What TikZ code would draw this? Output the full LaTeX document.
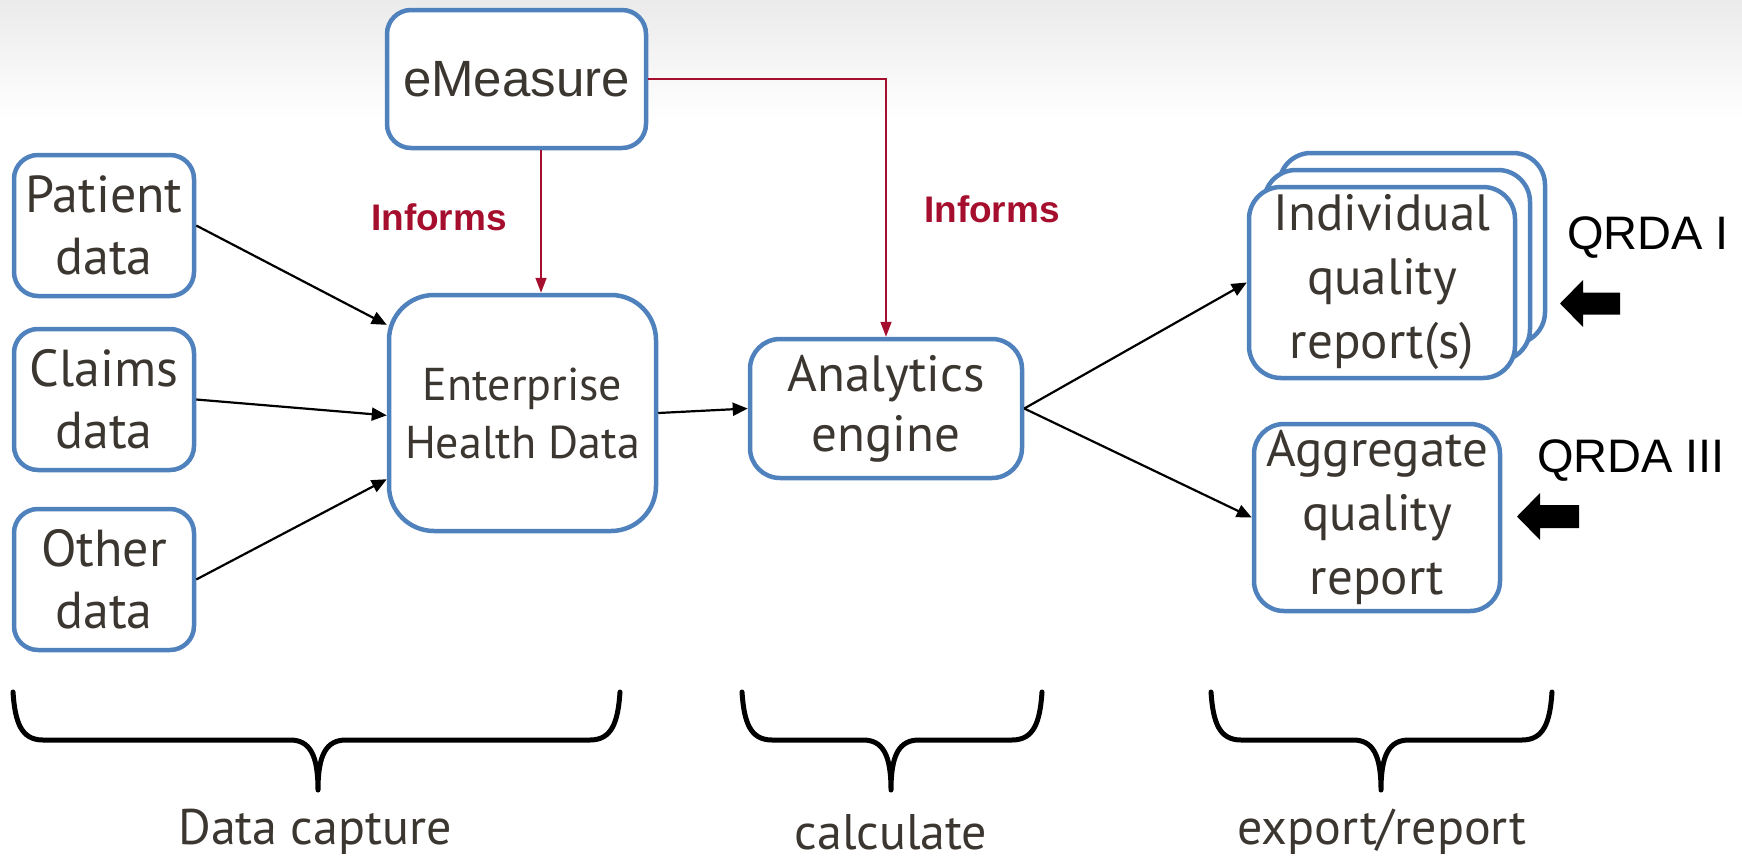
\documentclass[tikz,border=0pt]{standalone}
\usepackage{fontspec}
\setmainfont{PT Sans}
\newfontfamily\arialf{Liberation Sans}
\usetikzlibrary{arrows.meta,calc}
\definecolor{boxblue}{HTML}{4F81BD}
\definecolor{inkgray}{HTML}{3B3630}
\definecolor{informred}{HTML}{A50E2D}
\newcommand\fs[2]{\fontsize{#1}{#2}\selectfont}
\tikzset{
  box/.style={draw=boxblue, line width=4.5pt, fill=white, rounded corners=#1,
    inner sep=0pt, align=center, text=inkgray},
  box/.default=24pt,
  flow/.style={line width=2.2pt, -{Triangle[length=15pt,width=13pt]}},
  inform/.style={draw=informred, line width=1.7pt,
    -{Triangle[length=15pt,width=11pt,fill=informred]}},
  brace/.style={line width=5pt, line cap=round, line join=round},
  phase/.style={text=inkgray, font=\fs{50}{58}},
  informlabel/.style={text=informred, font=\arialf\bfseries\fs{37}{44}},
  qrda/.style={text=black, font=\arialf\fs{47}{55}},
}
\begin{document}
\begin{tikzpicture}[x=1pt,y=-1pt]
\useasboundingbox (0,0) rectangle (1742,862);
% soft grey band along the top edge
\shade[top color=black!8, bottom color=white] (0,0) rectangle (1742,120);

% measure definition
\node[box, minimum width=259pt, minimum height=138pt, font=\arialf\fs{51}{60}]
  (em) at (516.5,79) {eMeasure};

% data sources
\node[box, minimum width=180pt, minimum height=141pt, font=\fs{52}{62}]
  (pat) at (104,225.5) {Patient\\data};
\node[box, minimum width=180pt, minimum height=141pt, font=\fs{52}{62}]
  (cla) at (104,399.5) {Claims\\data};
\node[box, minimum width=180pt, minimum height=141pt, font=\fs{52}{62}]
  (oth) at (104,579.5) {Other\\data};

% central store and engine
\node[box=45pt, minimum width=267pt, minimum height=236pt, font=\fs{46}{58}]
  (ehd) at (522.5,413) {Enterprise\\Health Data};
\node[box=30pt, minimum width=272pt, minimum height=139pt, font=\fs{51}{60}]
  (an) at (886,408.5) {Analytics\\engine};

% stacked individual reports
\node[box=32pt, minimum width=266pt, minimum height=191pt] (indB) at (1412,248.5) {};
\node[box=32pt, minimum width=266pt, minimum height=191pt] (indM) at (1397,265.5) {};
\node[box=32pt, minimum width=266pt, minimum height=191pt, font=\fs{51}{64}]
  (ind) at (1382,282.5) {Individual\\quality\\report(s)};

% aggregate report
\node[box=30pt, minimum width=246pt, minimum height=187pt, font=\fs{51}{64}]
  (agg) at (1377,517.5) {Aggregate\\quality\\report};

% "informs" links
\draw[inform] (em.-71) -- (em.-71 |- ehd.north);
\draw[inform] (em.east) -| (an.north);
\node[informlabel] (inf1) at (439,217) {Informs};
\node[informlabel] (inf2) at (992,209) {Informs};

% data flow
\draw[flow] (pat.east) -- (ehd.147);
\draw[flow] (cla.east) -- (ehd.181);
\draw[flow] (oth.east) -- (ehd.206);
\draw[flow] (ehd.east) -- (an.west);
\draw[flow] (an.east) -- (ind.west);
\draw[flow] (an.east) -- (agg.west);

% output formats
\node[qrda] (q1) at (1648,238) {QRDA I};
\node[qrda] (q3) at (1631,461) {QRDA III};
\fill (1560,303.5) -- (1583,280) -- (1583,292.5) -- (1620,292.5)
  -- (1620,314.5) -- (1583,314.5) -- (1583,327) -- cycle;
\fill (1517,516.5) -- (1540,493) -- (1540,505) -- (1579,505)
  -- (1579,528) -- (1540,528) -- (1540,540) -- cycle;

% phase braces
\draw[brace] (13,692) .. controls (15,722) and (21,740) .. (43,740) -- (290,740)
  .. controls (310,740) and (318,755) .. (318,790)
  .. controls (318,755) and (326,740) .. (346,740) -- (590,740)
  .. controls (612,740) and (618,722) .. (620,692);
\draw[brace] (742,692) .. controls (744,722) and (750,740) .. (772,740) -- (863,740)
  .. controls (883,740) and (891,755) .. (891,790)
  .. controls (891,755) and (899,740) .. (919,740) -- (1012,740)
  .. controls (1034,740) and (1040,722) .. (1042,692);
\draw[brace] (1211,692) .. controls (1213,722) and (1219,740) .. (1241,740) -- (1353,740)
  .. controls (1373,740) and (1381,755) .. (1381,790)
  .. controls (1381,755) and (1389,740) .. (1409,740) -- (1522,740)
  .. controls (1544,740) and (1550,722) .. (1552,692);

\node[phase] (p1) at (315,832) {Data capture};
\node[phase] (p2) at (891,832) {calculate};
\node[phase] (p3) at (1382,832) {export/report};
\end{tikzpicture}
\end{document}
